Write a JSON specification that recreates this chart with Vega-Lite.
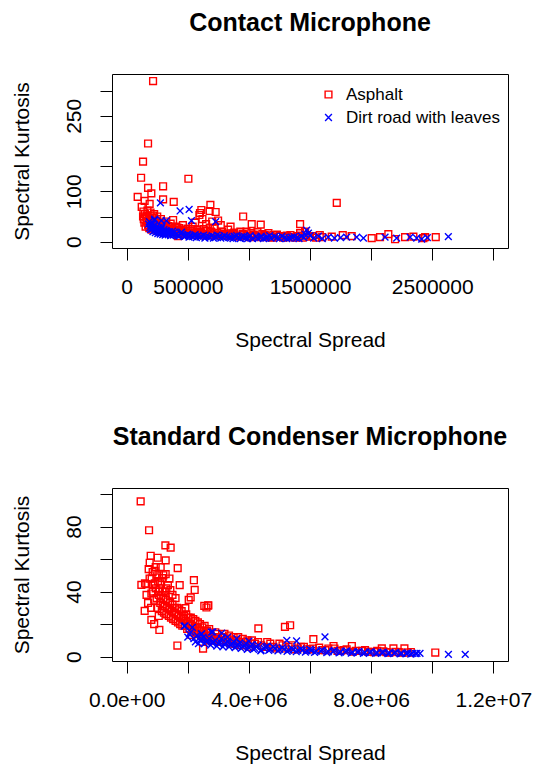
{
  "$schema": "https://vega.github.io/schema/vega-lite/v6.json",
  "background": "white",
  "padding": {"left": 10, "top": 10, "right": 0, "bottom": 0},
  "spacing": 73,
  "config": {
    "font": "Liberation Sans",
    "view": {"stroke": "black", "strokeWidth": 1},
    "axis": {"domain": false, "grid": false, "tickColor": "black", "tickSize": 12, "tickWidth": 1, "labelFont": "Liberation Sans", "labelFontSize": 21, "labelColor": "black", "titleFont": "Liberation Sans", "titleFontSize": 21, "titleFontWeight": "normal", "titleColor": "black", "labelOverlap": false, "labelBaseline": "alphabetic", "labelPadding": 33, "titleBaseline": "alphabetic"},
    "axisY": {"labelAngle": -90, "labelAlign": "center", "labelPadding": 20, "titleAngle": -90, "titleX": -84},
    "axisX": {"titleY": 98},
    "title": {"font": "Liberation Sans", "fontSize": 25, "fontWeight": "bold", "color": "black", "frame": "group", "anchor": "middle", "baseline": "alphabetic", "offset": 38},
    "point": {"filled": false, "strokeWidth": 1.4, "opacity": 1},
    "legend": {"labelFont": "Liberation Sans", "labelFontSize": 17, "labelColor": "black", "rowPadding": 5, "symbolSize": 46, "symbolStrokeWidth": 1.4, "labelOffset": 9, "padding": 0, "symbolOpacity": 1}
  },
  "resolve": {"scale": {"color": "independent", "shape": "independent"}},
  "datasets": {
    "contact_asphalt": [
      {"x":216000,"y":319},{"x":175000,"y":195},{"x":134000,"y":159},{"x":118000,"y":127},{"x":505000,"y":125},{"x":298000,"y":110},{"x":175000,"y":107},{"x":202000,"y":96},{"x":90000,"y":89},{"x":298000,"y":84},{"x":385000,"y":79},{"x":147000,"y":81},{"x":188000,"y":75},{"x":685000,"y":73},{"x":679000,"y":61},{"x":728000,"y":59},{"x":611000,"y":63},{"x":600000,"y":57},{"x":595000,"y":53},{"x":134000,"y":50},{"x":137000,"y":60},{"x":123000,"y":69},{"x":748000,"y":42},{"x":953000,"y":50},{"x":1023000,"y":35},{"x":1097000,"y":34},{"x":1419000,"y":35},{"x":1419000,"y":17},{"x":1719000,"y":77},{"x":420000,"y":11},
      {"x":140000,"y":45},{"x":150000,"y":55},{"x":160000,"y":48},{"x":165000,"y":40},{"x":170000,"y":62},{"x":180000,"y":52},{"x":185000,"y":38},{"x":190000,"y":44},{"x":195000,"y":58},{"x":200000,"y":33},{"x":210000,"y":47},{"x":215000,"y":40},{"x":220000,"y":30},{"x":225000,"y":55},{"x":230000,"y":36},{"x":240000,"y":42},{"x":245000,"y":28},{"x":250000,"y":50},{"x":255000,"y":33},{"x":260000,"y":25},{"x":270000,"y":38},{"x":280000,"y":45},{"x":285000,"y":30},{"x":290000,"y":22},{"x":300000,"y":35},{"x":310000,"y":27},{"x":320000,"y":40},{"x":330000,"y":24},{"x":340000,"y":31},{"x":350000,"y":20},{"x":360000,"y":36},{"x":370000,"y":26},{"x":380000,"y":43},{"x":390000,"y":22},{"x":400000,"y":30},{"x":410000,"y":19},{"x":430000,"y":27},{"x":450000,"y":24},{"x":460000,"y":33},{"x":480000,"y":18},{"x":500000,"y":26},{"x":520000,"y":21},{"x":540000,"y":30},{"x":560000,"y":17},{"x":580000,"y":24},{"x":600000,"y":20},{"x":620000,"y":45},{"x":640000,"y":15},{"x":660000,"y":22},{"x":700000,"y":18},{"x":720000,"y":27},{"x":750000,"y":14},{"x":780000,"y":20},{"x":800000,"y":16},{"x":830000,"y":24},{"x":860000,"y":13},{"x":880000,"y":18},{"x":900000,"y":12},{"x":930000,"y":20},{"x":960000,"y":14},{"x":990000,"y":11},{"x":1020000,"y":17},{"x":1050000,"y":12},{"x":1080000,"y":10},{"x":1110000,"y":15},{"x":1140000,"y":11},{"x":1170000,"y":9},{"x":1200000,"y":13},{"x":1240000,"y":10},{"x":1280000,"y":8},{"x":1310000,"y":12},{"x":1350000,"y":9},{"x":1400000,"y":11},{"x":1440000,"y":8},{"x":1470000,"y":13},{"x":1500000,"y":10},{"x":1550000,"y":8},{"x":1600000,"y":9},{"x":1678000,"y":10},{"x":1768000,"y":13},{"x":1841000,"y":11},{"x":2005000,"y":7},{"x":2073000,"y":9},{"x":2141000,"y":15},{"x":2196000,"y":5},{"x":2278000,"y":9},{"x":2346000,"y":10},{"x":2428000,"y":7},{"x":2442000,"y":9},{"x":2529000,"y":9},
      {"x":560000,"y":38},{"x":650000,"y":35},{"x":700000,"y":40},{"x":770000,"y":33},{"x":850000,"y":30},{"x":680000,"y":28},
      {"x":145000,"y":38},{"x":155000,"y":30},{"x":165000,"y":52},{"x":175000,"y":33},{"x":185000,"y":27},{"x":195000,"y":41},{"x":205000,"y":24},{"x":215000,"y":52},{"x":235000,"y":26},{"x":245000,"y":35},{"x":265000,"y":30},{"x":275000,"y":22},{"x":295000,"y":27},{"x":305000,"y":20},{"x":315000,"y":33},{"x":335000,"y":18},{"x":345000,"y":26},{"x":355000,"y":29},{"x":375000,"y":19},{"x":395000,"y":24},{"x":415000,"y":28},{"x":425000,"y":17},{"x":440000,"y":21},{"x":470000,"y":15},{"x":490000,"y":22},{"x":510000,"y":16},{"x":530000,"y":25},{"x":550000,"y":14},{"x":570000,"y":20},{"x":590000,"y":13},{"x":610000,"y":18},{"x":630000,"y":25},{"x":670000,"y":14},{"x":690000,"y":20},{"x":710000,"y":13},{"x":740000,"y":17},{"x":770000,"y":12},{"x":810000,"y":14},{"x":840000,"y":11},{"x":870000,"y":16},{"x":920000,"y":10},{"x":950000,"y":16},{"x":980000,"y":20},{"x":1010000,"y":9},{"x":1040000,"y":14},{"x":1070000,"y":19},{"x":1100000,"y":9},{"x":1130000,"y":13},{"x":1160000,"y":17},{"x":1190000,"y":8},{"x":1230000,"y":14},{"x":1260000,"y":11},{"x":1300000,"y":9},{"x":1340000,"y":13},{"x":1380000,"y":8},{"x":1420000,"y":12},{"x":1460000,"y":20},{"x":1520000,"y":11},{"x":1580000,"y":13}
    ],
    "contact_dirt": [
      {"x":276000,"y":77},{"x":437000,"y":61},{"x":511000,"y":64},{"x":227000,"y":43},{"x":728000,"y":40},{"x":229000,"y":45},{"x":284000,"y":42},{"x":325000,"y":42},{"x":530000,"y":42},
      {"x":180000,"y":35},{"x":190000,"y":28},{"x":200000,"y":32},{"x":210000,"y":25},{"x":220000,"y":30},{"x":230000,"y":22},{"x":240000,"y":27},{"x":250000,"y":20},{"x":260000,"y":25},{"x":270000,"y":18},{"x":280000,"y":23},{"x":290000,"y":30},{"x":300000,"y":19},{"x":310000,"y":16},{"x":320000,"y":22},{"x":330000,"y":18},{"x":340000,"y":14},{"x":350000,"y":20},{"x":370000,"y":16},{"x":380000,"y":13},{"x":390000,"y":19},{"x":410000,"y":15},{"x":420000,"y":12},{"x":440000,"y":17},{"x":460000,"y":13},{"x":480000,"y":11},{"x":500000,"y":15},{"x":520000,"y":12},{"x":540000,"y":10},{"x":560000,"y":14},{"x":580000,"y":11},{"x":600000,"y":9},{"x":630000,"y":13},{"x":650000,"y":10},{"x":680000,"y":8},{"x":700000,"y":12},{"x":730000,"y":9},{"x":760000,"y":11},{"x":790000,"y":8},{"x":820000,"y":10},{"x":850000,"y":7},{"x":880000,"y":11},{"x":910000,"y":8},{"x":940000,"y":10},{"x":970000,"y":7},{"x":1000000,"y":9},{"x":1030000,"y":6},{"x":1060000,"y":10},{"x":1090000,"y":8},{"x":1120000,"y":6},{"x":1150000,"y":9},{"x":1180000,"y":7},{"x":1210000,"y":10},{"x":1250000,"y":6},{"x":1290000,"y":8},{"x":1330000,"y":7},{"x":1370000,"y":10},{"x":1410000,"y":6},{"x":1450000,"y":8},{"x":1473000,"y":23},{"x":1487000,"y":17},{"x":1500000,"y":12},{"x":1530000,"y":7},{"x":1569000,"y":11},{"x":1600000,"y":6},{"x":1650000,"y":9},{"x":1700000,"y":7},{"x":1750000,"y":8},{"x":1800000,"y":9},{"x":1882000,"y":9},{"x":1937000,"y":7},{"x":2114000,"y":9},{"x":2209000,"y":7},{"x":2319000,"y":9},{"x":2373000,"y":7},{"x":2414000,"y":5},{"x":2460000,"y":8},{"x":2632000,"y":10},
      {"x":185000,"y":40},{"x":195000,"y":24},{"x":205000,"y":35},{"x":215000,"y":20},{"x":225000,"y":33},{"x":235000,"y":18},{"x":245000,"y":30},{"x":255000,"y":16},{"x":265000,"y":28},{"x":275000,"y":15},{"x":285000,"y":26},{"x":295000,"y":14},{"x":305000,"y":24},{"x":315000,"y":13},{"x":325000,"y":20},{"x":345000,"y":17},{"x":360000,"y":12},{"x":375000,"y":21},{"x":400000,"y":14},{"x":430000,"y":11},{"x":450000,"y":19},{"x":470000,"y":10},{"x":490000,"y":13},{"x":510000,"y":9},{"x":550000,"y":12},{"x":570000,"y":8},{"x":610000,"y":11},{"x":640000,"y":7},{"x":670000,"y":10},{"x":710000,"y":7},{"x":740000,"y":13},{"x":770000,"y":7},{"x":800000,"y":12},{"x":840000,"y":9},{"x":870000,"y":6},{"x":900000,"y":12},{"x":930000,"y":6},{"x":960000,"y":11},{"x":990000,"y":6},{"x":1010000,"y":12},{"x":1070000,"y":7},{"x":1100000,"y":11},{"x":1140000,"y":7},{"x":1170000,"y":12},{"x":1230000,"y":8},{"x":1270000,"y":11},{"x":1310000,"y":6},{"x":1350000,"y":9},{"x":1390000,"y":7},{"x":1430000,"y":11},{"x":1460000,"y":15}
    ],
    "cond_asphalt": [
      {"x":458000,"y":95.5},{"x":733000,"y":77.7},{"x":1267000,"y":68.4},{"x":1440000,"y":67},{"x":786000,"y":62},{"x":1015000,"y":60.8},{"x":1277000,"y":59.2},{"x":753000,"y":57.7},{"x":1113000,"y":55},{"x":720000,"y":53.8},{"x":917000,"y":52.8},{"x":1670000,"y":54.4},{"x":1277000,"y":50.7},{"x":818000,"y":48},{"x":1160000,"y":48.3},{"x":1030000,"y":46.4},{"x":2200000,"y":47},{"x":481000,"y":44.1},{"x":645000,"y":44.6},{"x":864000,"y":44.4},{"x":1735000,"y":44},{"x":1300000,"y":42},{"x":1430000,"y":40.9},{"x":2226000,"y":41},{"x":808000,"y":38.8},{"x":1060000,"y":40},{"x":2095000,"y":36.4},{"x":2030000,"y":34.9},{"x":2664000,"y":31.4},{"x":2610000,"y":30.2},{"x":589000,"y":28.1},{"x":808000,"y":22.6},{"x":1070000,"y":16.4},{"x":1660000,"y":6.8},{"x":2500000,"y":4.9},{"x":1920000,"y":29.8},{"x":2120000,"y":13.3},{"x":2540000,"y":31.2},{"x":2670000,"y":31.6},{"x":4310000,"y":17.4},{"x":5180000,"y":18.3},{"x":5350000,"y":19.3},{"x":6110000,"y":10.7},{"x":6770000,"y":6.5},{"x":7370000,"y":6.5},{"x":8350000,"y":5.1},{"x":8730000,"y":5.1},{"x":9090000,"y":5.1},{"x":10100000,"y":2.5},
      {"x":900000,"y":35},{"x":950000,"y":42},{"x":1000000,"y":30},{"x":1050000,"y":38},{"x":1100000,"y":33},{"x":1150000,"y":28},{"x":1200000,"y":36},{"x":1250000,"y":31},{"x":1300000,"y":26},{"x":1350000,"y":34},{"x":1400000,"y":29},{"x":1450000,"y":24},{"x":1500000,"y":32},{"x":1550000,"y":27},{"x":1600000,"y":22},{"x":1650000,"y":30},{"x":1700000,"y":25},{"x":1750000,"y":20},{"x":1800000,"y":28},{"x":1850000,"y":23},{"x":1900000,"y":19},{"x":1950000,"y":26},{"x":2000000,"y":21},{"x":2050000,"y":17},{"x":2100000,"y":24},{"x":2150000,"y":19},{"x":2200000,"y":15},{"x":2250000,"y":22},{"x":2300000,"y":18},{"x":2350000,"y":14},{"x":2400000,"y":20},{"x":2450000,"y":16},{"x":2500000,"y":12},{"x":2550000,"y":19},{"x":2600000,"y":15},{"x":2650000,"y":11},{"x":2700000,"y":17},{"x":2750000,"y":13},{"x":2800000,"y":10},{"x":2900000,"y":15},{"x":3000000,"y":12},{"x":3100000,"y":9},{"x":3200000,"y":14},{"x":3300000,"y":11},{"x":3400000,"y":8},{"x":3500000,"y":12},{"x":3600000,"y":10},{"x":3700000,"y":7},{"x":3800000,"y":11},{"x":3900000,"y":9},{"x":4000000,"y":6},{"x":4100000,"y":10},{"x":4200000,"y":8},{"x":4400000,"y":7},{"x":4600000,"y":9},{"x":4800000,"y":6},{"x":5000000,"y":8},{"x":5200000,"y":5},{"x":5400000,"y":7},{"x":5600000,"y":5},{"x":5800000,"y":6},{"x":6000000,"y":4.5},{"x":6300000,"y":5.5},{"x":6500000,"y":4},{"x":6800000,"y":5},{"x":7000000,"y":3.5},{"x":7200000,"y":4.5},{"x":7500000,"y":3.5},{"x":7800000,"y":4},{"x":8000000,"y":3},{"x":8200000,"y":3.5},{"x":8500000,"y":2.8},{"x":8800000,"y":3},{"x":9000000,"y":2.5},{"x":9300000,"y":2.8},
      {"x":1100000,"y":45},{"x":1200000,"y":50},{"x":950000,"y":55},{"x":1350000,"y":44},{"x":1500000,"y":38},{"x":1600000,"y":36},{"x":1050000,"y":25},{"x":900000,"y":20},{"x":700000,"y":33},{"x":1250000,"y":40},{"x":1400000,"y":48},
      {"x":600000,"y":45},{"x":650000,"y":38},{"x":750000,"y":48},{"x":800000,"y":30},{"x":850000,"y":52},{"x":850000,"y":40},{"x":920000,"y":45},{"x":980000,"y":36},{"x":1000000,"y":50},{"x":1080000,"y":42},{"x":1120000,"y":37},{"x":1170000,"y":40},{"x":1180000,"y":31},{"x":1220000,"y":27},{"x":1280000,"y":35},{"x":1320000,"y":30},{"x":1380000,"y":25},{"x":1420000,"y":33},{"x":1480000,"y":28},{"x":1520000,"y":23},{"x":1580000,"y":30},{"x":1620000,"y":26},{"x":1680000,"y":21},{"x":1720000,"y":29},{"x":1780000,"y":24},{"x":1820000,"y":19},{"x":1880000,"y":25},{"x":1930000,"y":22},{"x":1980000,"y":17},{"x":2020000,"y":24},{"x":2080000,"y":20},{"x":2130000,"y":16},{"x":2180000,"y":23},{"x":2230000,"y":18},{"x":2280000,"y":14},{"x":2330000,"y":21},{"x":2380000,"y":16},{"x":2430000,"y":13},{"x":2480000,"y":18},{"x":2530000,"y":14},{"x":2580000,"y":11},{"x":2630000,"y":16},{"x":2680000,"y":13},{"x":2730000,"y":10},{"x":2850000,"y":12},{"x":2950000,"y":14},{"x":3050000,"y":10},{"x":3150000,"y":12},{"x":3250000,"y":9},{"x":3350000,"y":13},{"x":3450000,"y":10},{"x":3550000,"y":8},{"x":3650000,"y":12},{"x":3750000,"y":9},{"x":3850000,"y":7},{"x":3950000,"y":10},{"x":4050000,"y":8},{"x":4300000,"y":9},{"x":4500000,"y":6},{"x":4700000,"y":8},{"x":4900000,"y":5},{"x":5100000,"y":7},{"x":5300000,"y":6},{"x":5500000,"y":4.5},{"x":5700000,"y":6},{"x":5900000,"y":4.5},{"x":6100000,"y":5},{"x":6400000,"y":4},{"x":6600000,"y":5},{"x":6900000,"y":3.5},{"x":7100000,"y":4},{"x":7400000,"y":3},{"x":7700000,"y":3.5},{"x":7900000,"y":3},{"x":8100000,"y":2.8},{"x":8400000,"y":3.2},{"x":8600000,"y":2.5},{"x":8900000,"y":2.8},{"x":9200000,"y":2.5}
    ],
    "cond_dirt": [
      {"x":1880000,"y":18.7},{"x":1910000,"y":18.9},{"x":2445000,"y":14},{"x":2455000,"y":14},{"x":2770000,"y":15},{"x":2820000,"y":15.2},{"x":3110000,"y":14.4},{"x":6490000,"y":12.1},{"x":10530000,"y":1.4},{"x":11080000,"y":1.4},{"x":9350000,"y":2},{"x":9500000,"y":2},{"x":9600000,"y":2},{"x":4390000,"y":3.5},{"x":5240000,"y":10},{"x":5560000,"y":9.6},
      {"x":2000000,"y":12},{"x":2100000,"y":15},{"x":2200000,"y":11},{"x":2300000,"y":13},{"x":2400000,"y":10},{"x":2500000,"y":12},{"x":2600000,"y":9},{"x":2700000,"y":11},{"x":2800000,"y":8.5},{"x":2900000,"y":10},{"x":3000000,"y":8},{"x":3100000,"y":11},{"x":3200000,"y":7.5},{"x":3300000,"y":9.5},{"x":3400000,"y":7},{"x":3500000,"y":9},{"x":3600000,"y":6.5},{"x":3700000,"y":8.5},{"x":3800000,"y":6},{"x":3900000,"y":8},{"x":4000000,"y":5.5},{"x":4100000,"y":7.5},{"x":4200000,"y":5},{"x":4300000,"y":7},{"x":4500000,"y":5},{"x":4600000,"y":6.5},{"x":4700000,"y":4.5},{"x":4800000,"y":6},{"x":5000000,"y":4.5},{"x":5100000,"y":5.5},{"x":5300000,"y":4},{"x":5400000,"y":5},{"x":5600000,"y":3.8},{"x":5700000,"y":4.8},{"x":5900000,"y":3.5},{"x":6000000,"y":4.5},{"x":6200000,"y":3.2},{"x":6400000,"y":4},{"x":6600000,"y":3},{"x":6800000,"y":3.8},{"x":7000000,"y":2.8},{"x":7200000,"y":3.5},{"x":7400000,"y":2.6},{"x":7600000,"y":3.2},{"x":7800000,"y":2.5},{"x":8000000,"y":3},{"x":8200000,"y":2.3},{"x":8400000,"y":2.8},{"x":8600000,"y":2.2},{"x":8800000,"y":2.6},{"x":9000000,"y":2},{"x":9200000,"y":2.3},{"x":9450000,"y":1.9},{"x":3300000,"y":12},{"x":3600000,"y":11},{"x":4000000,"y":9.5},{"x":2150000,"y":18},{"x":2350000,"y":8},
      {"x":2050000,"y":14},{"x":2250000,"y":9},{"x":2450000,"y":11},{"x":2550000,"y":8},{"x":2650000,"y":10},{"x":2750000,"y":7},{"x":2850000,"y":9},{"x":2950000,"y":6.5},{"x":3050000,"y":9},{"x":3150000,"y":6},{"x":3250000,"y":8.5},{"x":3350000,"y":6},{"x":3450000,"y":8},{"x":3550000,"y":5.5},{"x":3650000,"y":7.5},{"x":3750000,"y":5},{"x":3850000,"y":7},{"x":3950000,"y":4.5},{"x":4050000,"y":6.5},{"x":4150000,"y":4.5},{"x":4250000,"y":6},{"x":4400000,"y":4},{"x":4550000,"y":6},{"x":4650000,"y":3.8},{"x":4850000,"y":5},{"x":4950000,"y":3.5},{"x":5150000,"y":4.5},{"x":5250000,"y":3.2},{"x":5450000,"y":4.2},{"x":5550000,"y":3},{"x":5750000,"y":4},{"x":5850000,"y":2.8},{"x":6050000,"y":3.8},{"x":6150000,"y":2.6},{"x":6350000,"y":3.5},{"x":6550000,"y":2.5},{"x":6750000,"y":3.2},{"x":6950000,"y":2.3},{"x":7150000,"y":3},{"x":7350000,"y":2.2},{"x":7550000,"y":2.8},{"x":7750000,"y":2},{"x":7950000,"y":2.6},{"x":8150000,"y":2},{"x":8350000,"y":2.4},{"x":8550000,"y":1.8},{"x":8750000,"y":2.2},{"x":8950000,"y":1.7},{"x":9150000,"y":2},{"x":9300000,"y":1.6}
    ]
  },
  "vconcat": [
    {
      "title": "Contact Microphone",
      "width": 396,
      "height": 174,
      "encoding": {
        "x": {"field": "x", "type": "quantitative", "title": "Spectral Spread", "scale": {"domain": [-120000, 3120000], "nice": false, "zero": false}, "axis": {"values": [0, 500000, 1000000, 1500000, 2000000, 2500000, 3000000], "labelExpr": "datum.value == 0 ? '0' : (datum.value == 500000 || datum.value == 1500000 || datum.value == 2500000) ? format(datum.value, 'd') : ''"}},
        "y": {"field": "y", "type": "quantitative", "title": "Spectral Kurtosis", "scale": {"domain": [-12.5, 333], "nice": false, "zero": false}, "axis": {"values": [0, 50, 100, 150, 200, 250, 300], "labelExpr": "(datum.value == 0 || datum.value == 100 || datum.value == 250) ? datum.label : ''"}}
      },
      "layer": [
        {
          "data": {"name": "contact_asphalt"},
          "mark": {"type": "point", "size": 46},
          "encoding": {
            "color": {"datum": "Asphalt", "scale": {"domain": ["Asphalt", "Dirt road with leaves"], "range": ["#ff0000", "#0000ff"]}, "legend": {"title": null, "orient": "none", "legendX": 208, "legendY": 12}},
            "shape": {"datum": "Asphalt", "scale": {"domain": ["Asphalt", "Dirt road with leaves"], "range": ["square", "M-1,-1L1,1M-1,1L1,-1"]}, "legend": {"title": null, "orient": "none", "legendX": 208, "legendY": 12}}
          }
        },
        {
          "data": {"name": "contact_dirt"},
          "mark": {"type": "point", "size": 46},
          "encoding": {
            "color": {"datum": "Dirt road with leaves"},
            "shape": {"datum": "Dirt road with leaves"}
          }
        }
      ]
    },
    {
      "title": "Standard Condenser Microphone",
      "width": 396,
      "height": 173,
      "encoding": {
        "x": {"field": "x", "type": "quantitative", "title": "Spectral Spread", "scale": {"domain": [-480000, 12480000], "nice": false, "zero": false}, "axis": {"values": [0, 2000000, 4000000, 6000000, 8000000, 10000000, 12000000], "labelExpr": "datum.value == 0 ? '0.0e+00' : datum.value == 4000000 ? '4.0e+06' : datum.value == 8000000 ? '8.0e+06' : datum.value == 12000000 ? '1.2e+07' : ''"}},
        "y": {"field": "y", "type": "quantitative", "title": "Spectral Kurtosis", "scale": {"domain": [-2.7, 103.7], "nice": false, "zero": false}, "axis": {"values": [0, 20, 40, 60, 80, 100], "labelExpr": "(datum.value == 0 || datum.value == 40 || datum.value == 80) ? datum.label : ''"}}
      },
      "layer": [
        {
          "data": {"name": "cond_asphalt"},
          "mark": {"type": "point", "size": 46},
          "encoding": {
            "color": {"datum": "Asphalt", "scale": {"domain": ["Asphalt", "Dirt road with leaves"], "range": ["#ff0000", "#0000ff"]}, "legend": null},
            "shape": {"datum": "Asphalt", "scale": {"domain": ["Asphalt", "Dirt road with leaves"], "range": ["square", "M-1,-1L1,1M-1,1L1,-1"]}, "legend": null}
          }
        },
        {
          "data": {"name": "cond_dirt"},
          "mark": {"type": "point", "size": 46},
          "encoding": {
            "color": {"datum": "Dirt road with leaves", "legend": null},
            "shape": {"datum": "Dirt road with leaves", "legend": null}
          }
        }
      ]
    }
  ]
}
